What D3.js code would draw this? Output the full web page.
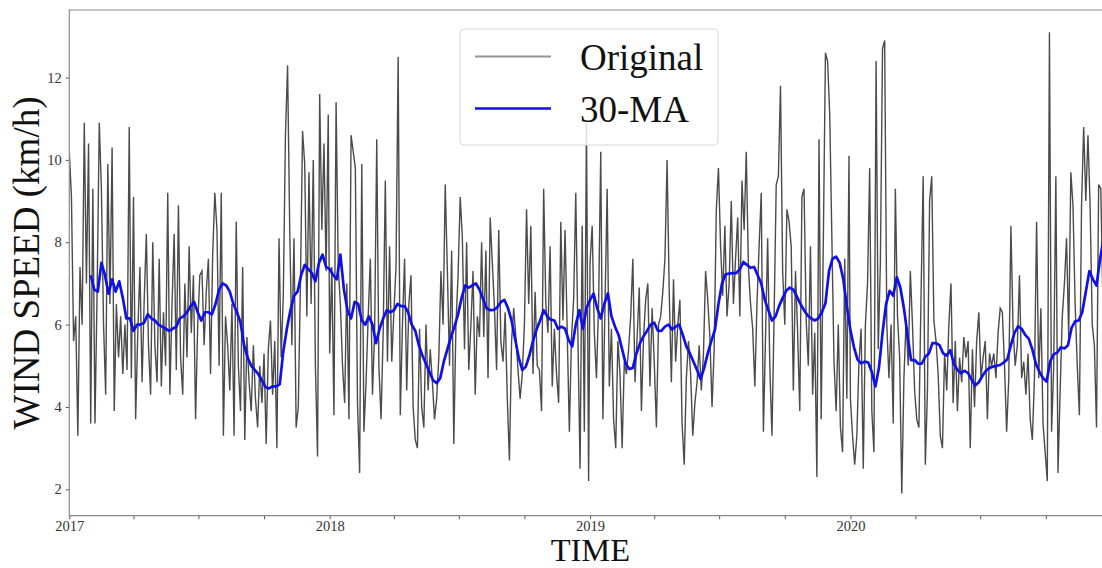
<!DOCTYPE html>
<html lang="en">
<head>
<meta charset="UTF-8">
<title>Wind speed, 30-day moving average</title>
<style>
  body { margin: 0; background: #fff; }
  svg { display: block; font-family: "Liberation Serif", "Times New Roman", serif; }
  .tick line { stroke: #555; }
</style>
</head>
<body>
<script src="https://cdn.jsdelivr.net/npm/d3@7"></script>
<script>
// daily wind speed, read every 3rd day from the figure (km/h)
var origStep = 3;
var orig2017 = [10.2, 9.1, 5.6, 6.2, 3.3, 7.4, 6.0, 10.9, 7.0, 10.4, 3.6, 9.3, 3.6, 6.8, 10.9, 9.3, 6.0, 4.3, 9.9, 6.5,
  10.3, 3.9, 6.5, 5.2, 6.2, 4.8, 6.0, 4.9, 10.8, 4.7, 9.1, 3.7, 5.8, 7.4, 4.6, 6.6, 8.2, 5.5, 4.3, 8.0,
  5.5, 4.6, 7.6, 4.5, 6.3, 5.0, 9.2, 4.3, 6.5, 8.2, 4.9, 8.9, 5.2, 4.3, 7.0, 5.2, 7.9, 5.8, 7.2, 3.7,
  6.0, 7.2, 7.3, 5.5, 6.8, 7.6, 4.8, 7.7, 9.2, 8.3, 5.0, 9.2, 3.3, 6.2, 5.5, 4.4, 6.5, 3.3, 8.5, 5.0,
  3.9, 7.4, 3.2, 5.7, 4.6, 3.9, 5.5, 4.2, 3.5, 5.0, 4.1, 5.3, 3.1, 5.4, 6.1, 4.3, 5.6, 3.0, 8.1, 5.2,
  6.7, 10.6, 12.3, 8.3, 5.5, 8.1, 3.5, 4.0, 7.0, 10.7, 9.9, 6.2, 9.7, 6.5, 10.0, 5.0, 2.8, 11.6, 8.3, 10.4,
  7.3, 11.1];
var orig2018 = [5.3, 7.4, 3.8, 11.4, 7.4, 6.5, 5.0, 4.1, 7.0, 3.7, 10.6, 10.2, 9.8, 4.1, 2.4, 9.9, 3.4, 4.6, 6.2, 7.6,
  4.3, 5.8, 10.5, 5.0, 3.7, 5.8, 9.5, 5.1, 7.9, 5.1, 6.3, 7.4, 12.5, 3.8, 6.0, 7.6, 4.4, 6.5, 7.2, 4.0,
  3.2, 3.0, 5.9, 4.0, 3.5, 6.0, 4.4, 5.4, 4.6, 3.7, 4.2, 5.2, 7.3, 6.0, 9.4, 7.3, 5.0, 7.8, 3.1, 6.0,
  7.2, 9.1, 8.1, 5.4, 8.0, 4.9, 6.0, 7.3, 4.3, 6.2, 5.7, 8.0, 5.7, 7.8, 4.7, 8.6, 7.5, 6.4, 4.9, 8.3,
  5.6, 5.1, 6.3, 4.2, 2.7, 5.6, 6.4, 5.7, 4.9, 4.2, 4.8, 6.0, 8.8, 6.5, 8.4, 4.8, 6.8, 5.0, 4.9, 3.9,
  9.3, 6.5, 5.8, 7.9, 4.5, 5.9, 4.8, 4.1, 8.5, 6.1, 8.3, 5.8, 3.4, 5.7, 6.6, 9.2, 5.7, 2.5, 8.4, 3.4,
  10.9, 2.2];
var orig2019 = [7.5, 8.4, 5.8, 4.7, 6.5, 10.2, 3.7, 6.5, 9.3, 4.5, 5.9, 3.7, 3.0, 5.6, 4.8, 3.0, 5.1, 4.8, 5.4, 6.2,
  7.6, 4.6, 5.7, 6.9, 3.9, 5.7, 6.6, 7.0, 4.5, 6.4, 5.1, 3.5, 6.0, 6.2, 6.8, 7.6, 10.0, 6.8, 4.6, 7.1,
  5.1, 6.0, 6.6, 3.6, 2.6, 4.7, 5.6, 4.8, 3.3, 4.1, 4.6, 5.5, 4.4, 5.3, 7.3, 6.6, 5.7, 4.0, 5.4, 8.8,
  9.8, 7.9, 6.7, 8.4, 6.2, 7.0, 9.0, 6.5, 7.6, 8.6, 6.2, 9.5, 8.3, 10.2, 7.4, 6.5, 5.9, 4.5, 6.5, 7.9,
  9.2, 3.4, 5.7, 8.1, 5.0, 3.3, 6.2, 9.4, 9.6, 11.8, 7.3, 6.0, 8.8, 8.5, 7.9, 4.4, 7.3, 5.8, 3.9, 9.1,
  9.3, 6.1, 5.0, 7.9, 4.3, 5.8, 2.3, 10.5, 3.7, 8.0, 12.6, 12.4, 11.1, 8.1, 5.1, 3.9, 6.0, 3.5, 2.9, 7.6,
  4.2, 10.1];
var orig2020 = [4.2, 3.3, 2.6, 3.3, 5.1, 5.9, 2.5, 6.0, 7.0, 9.8, 3.9, 2.9, 12.4, 5.4, 7.5, 12.7, 12.9, 6.0, 4.7, 6.0,
  3.6, 9.3, 6.2, 5.2, 1.9, 4.7, 6.1, 5.0, 7.3, 6.0, 4.4, 3.7, 3.5, 6.7, 9.6, 2.6, 4.4, 9.0, 9.6, 6.1,
  5.6, 4.8, 3.3, 3.0, 5.3, 4.4, 6.0, 7.0, 4.1, 5.6, 3.9, 5.2, 4.6, 5.7, 5.2, 5.6, 3.0, 5.4, 4.0, 5.6,
  6.3, 4.7, 5.2, 5.6, 3.7, 5.3, 5.0, 5.3, 4.7, 5.8, 6.4, 6.3, 5.0, 3.4, 4.7, 8.4, 5.9, 5.0, 5.5, 7.2,
  4.7, 5.1, 4.3, 5.3, 3.7, 3.2, 4.7, 8.5, 4.7, 6.4, 3.6, 2.9, 2.2, 13.1, 3.4, 5.0, 9.6, 2.4, 4.4, 6.2,
  7.0, 8.1, 5.7, 9.7, 8.9, 6.5, 5.0, 3.8, 8.9, 10.8, 9.0, 10.6, 8.9, 6.0, 5.5, 3.5, 9.4, 9.3, 6.5, 7.5,
  8.0, 7.2];

// 30-day moving average, read every 5th day (2017 starts on day 30)
var maStep = 5;
var ma2017 = [7.2, 6.85, 6.8, 7.5, 7.2, 6.75, 7.1, 6.8, 7.05, 6.65, 6.15, 6.15, 5.85, 6.0, 6.0, 6.05, 6.25, 6.15, 6.1, 6.0,
  5.95, 5.9, 5.85, 5.9, 5.95, 6.15, 6.2, 6.3, 6.45, 6.55, 6.3, 6.1, 6.3, 6.3, 6.25, 6.5, 6.85, 7.0, 6.95, 6.8,
  6.5, 6.3, 6.05, 5.5, 5.2, 5.0, 4.9, 4.8, 4.65, 4.48, 4.45, 4.5, 4.5, 4.55, 5.35, 5.9, 6.35, 6.7, 6.8, 7.2,
  7.45, 7.35, 7.25, 7.05, 7.5, 7.7, 7.4];
var ma2018 = [7.35, 7.2, 7.1, 7.7, 6.85, 6.35, 6.15, 6.55, 6.5, 6.1, 6.0, 6.2, 6.0, 5.55, 5.9, 6.15, 6.35, 6.3, 6.35, 6.5,
  6.45, 6.45, 6.3, 6.0, 5.85, 5.5, 5.25, 5.05, 4.85, 4.65, 4.58, 4.7, 5.1, 5.4, 5.7, 5.95, 6.25, 6.65, 6.95, 6.9,
  6.95, 7.0, 6.85, 6.62, 6.4, 6.35, 6.36, 6.42, 6.55, 6.6, 6.4, 6.1, 5.65, 5.2, 4.9, 4.98, 5.25, 5.6, 5.88, 6.1,
  6.35, 6.2, 6.12, 6.1, 5.9, 5.95, 5.9, 5.63, 5.47, 6.0, 6.35, 5.9, 6.4];
var ma2019 = [6.6, 6.75, 6.4, 6.15, 6.5, 6.76, 6.2, 5.95, 5.75, 5.4, 5.05, 4.92, 4.95, 5.3, 5.55, 5.72, 5.85, 6.0, 6.05, 5.85,
  5.85, 5.95, 6.0, 5.88, 5.95, 6.0, 5.75, 5.47, 5.3, 5.1, 4.9, 4.68, 4.95, 5.3, 5.6, 5.87, 6.5, 7.0, 7.22, 7.24,
  7.25, 7.25, 7.35, 7.52, 7.45, 7.38, 7.4, 7.2, 7.0, 6.6, 6.35, 6.1, 6.2, 6.45, 6.65, 6.82, 6.9, 6.85, 6.68, 6.5,
  6.35, 6.22, 6.15, 6.1, 6.15, 6.3, 6.52, 7.3, 7.6, 7.65, 7.5, 7.1, 6.45];
var ma2020 = [5.87, 5.45, 5.15, 5.06, 5.1, 5.08, 4.85, 4.5, 4.95, 5.8, 6.5, 6.82, 6.7, 7.15, 6.9, 6.4, 5.75, 5.14, 5.14, 5.05,
  5.05, 5.22, 5.3, 5.55, 5.55, 5.5, 5.3, 5.25, 5.38, 5.05, 4.9, 4.82, 4.88, 4.82, 4.66, 4.52, 4.6, 4.75, 4.88, 4.95,
  4.98, 5.0, 5.02, 5.08, 5.16, 5.5, 5.8, 5.96, 5.9, 5.75, 5.66, 5.4, 5.05, 4.85, 4.7, 4.62, 5.1, 5.28, 5.32, 5.45,
  5.42, 5.5, 5.92, 6.08, 6.1, 6.3, 6.8, 7.3, 7.1, 6.95, 7.6, 8.1, 8.0];

var years = [2017, 2018, 2019, 2020];
var origByYear = [orig2017, orig2018, orig2019, orig2020];
var maByYear = [ma2017, ma2018, ma2019, ma2020];
var maFirstDay = [30, 0, 0, 0];
var yTicks = [2, 4, 6, 8, 10, 12];

var width = 1102, height = 568;
var margin = {left: 69.3, top: 10, bottom: 515.7, right: 1111.5};
var serif = '"Liberation Serif", "Times New Roman", serif';

function toPoints(arrays, step, first) {
  var pts = [];
  arrays.forEach(function(arr, k) {
    var start = new Date(Date.UTC(years[k], 0, 1));
    arr.forEach(function(v, i) {
      pts.push({date: d3.utcDay.offset(start, (first ? first[k] : 0) + i * step), value: v});
    });
  });
  return pts;
}
var original = toPoints(origByYear, origStep);
var movingAvg = toPoints(maByYear, maStep, maFirstDay);

var x = d3.scaleUtc()
    .domain([new Date(Date.UTC(2017, 0, 1)), new Date(Date.UTC(2021, 0, 1))])
    .range([margin.left, margin.right]);
var y = d3.scaleLinear()
    .domain([1.36, 13.64])
    .range([margin.bottom, margin.top]);

var svg = d3.select("body").append("svg")
    .attr("width", width)
    .attr("height", height);

svg.append("defs").append("clipPath").attr("id", "plot")
  .append("rect")
    .attr("x", margin.left).attr("y", margin.top)
    .attr("width", margin.right - margin.left)
    .attr("height", margin.bottom - margin.top);

var line = d3.line()
    .x(function(d) { return x(d.date); })
    .y(function(d) { return y(d.value); });

var plot = svg.append("g").attr("clip-path", "url(#plot)");

plot.append("path")
    .datum(original)
    .attr("fill", "none")
    .attr("stroke", "#1e1e1e")
    .attr("stroke-opacity", 0.8)
    .attr("stroke-width", 1.4)
    .attr("d", line);

plot.append("path")
    .datum(movingAvg)
    .attr("fill", "none")
    .attr("stroke", "#1010e8")
    .attr("stroke-width", 2.7)
    .attr("stroke-linejoin", "round")
    .attr("d", line);

// axes; ticks every quarter, labels on the years
var quarters = d3.utcMonth.every(3).range(new Date(Date.UTC(2017, 0, 1)), new Date(Date.UTC(2021, 0, 1)));
svg.append("g")
    .attr("transform", "translate(0," + margin.bottom + ")")
    .call(d3.axisBottom(x)
      .tickValues(quarters)
      .tickSize(3.5)
      .tickPadding(2)
      .tickFormat(function(d) { return d.getUTCMonth() === 0 ? d.getUTCFullYear() : ""; }))
    .call(function(g) { g.select(".domain").remove(); })
    .attr("font-family", serif)
    .attr("font-size", 14.5)
    .selectAll("text").attr("fill", "#333");

svg.append("g")
    .attr("transform", "translate(" + margin.left + ",0)")
    .call(d3.axisLeft(y).tickValues(yTicks).tickSize(3.5).tickPadding(4))
    .call(function(g) { g.select(".domain").remove(); })
    .attr("font-family", serif)
    .attr("font-size", 14.5)
    .selectAll("text").attr("fill", "#333");

// spines (the right one falls outside the picture)
svg.append("path")
    .attr("d", "M" + margin.right + "," + margin.top + "H" + margin.left + "V" + margin.bottom + "H" + margin.right)
    .attr("fill", "none")
    .attr("stroke", "#8a8a8a")
    .attr("stroke-width", 1.2);

// axis titles
svg.append("text")
    .attr("transform", "translate(39,263)rotate(-90)")
    .attr("text-anchor", "middle")
    .attr("font-size", 37)
    .attr("fill", "#111")
    .text("WIND SPEED (km/h)");

svg.append("text")
    .attr("x", (margin.left + margin.right) / 2)
    .attr("y", 561)
    .attr("text-anchor", "middle")
    .attr("font-size", 32.5)
    .attr("fill", "#111")
    .text("TIME");

// legend
var legend = svg.append("g");
legend.append("rect")
    .attr("x", 460).attr("y", 29)
    .attr("width", 258).attr("height", 116)
    .attr("rx", 4)
    .attr("fill", "#fff").attr("fill-opacity", 0.82)
    .attr("stroke", "#d8d8d8");

var entries = [
  {label: "Original", color: "#2a2a2a", opacity: 0.5, width: 2.2, y: 56.5},
  {label: "30-MA", color: "#1010e8", opacity: 1, width: 2.6, y: 108.5}
];
entries.forEach(function(e) {
  legend.append("line")
      .attr("x1", 475).attr("x2", 551)
      .attr("y1", e.y).attr("y2", e.y)
      .attr("stroke", e.color)
      .attr("stroke-opacity", e.opacity)
      .attr("stroke-width", e.width);
  legend.append("text")
      .attr("x", 580).attr("y", e.y + 13)
      .attr("font-size", 37)
      .attr("fill", "#111")
      .text(e.label);
});
</script>
</body>
</html>
